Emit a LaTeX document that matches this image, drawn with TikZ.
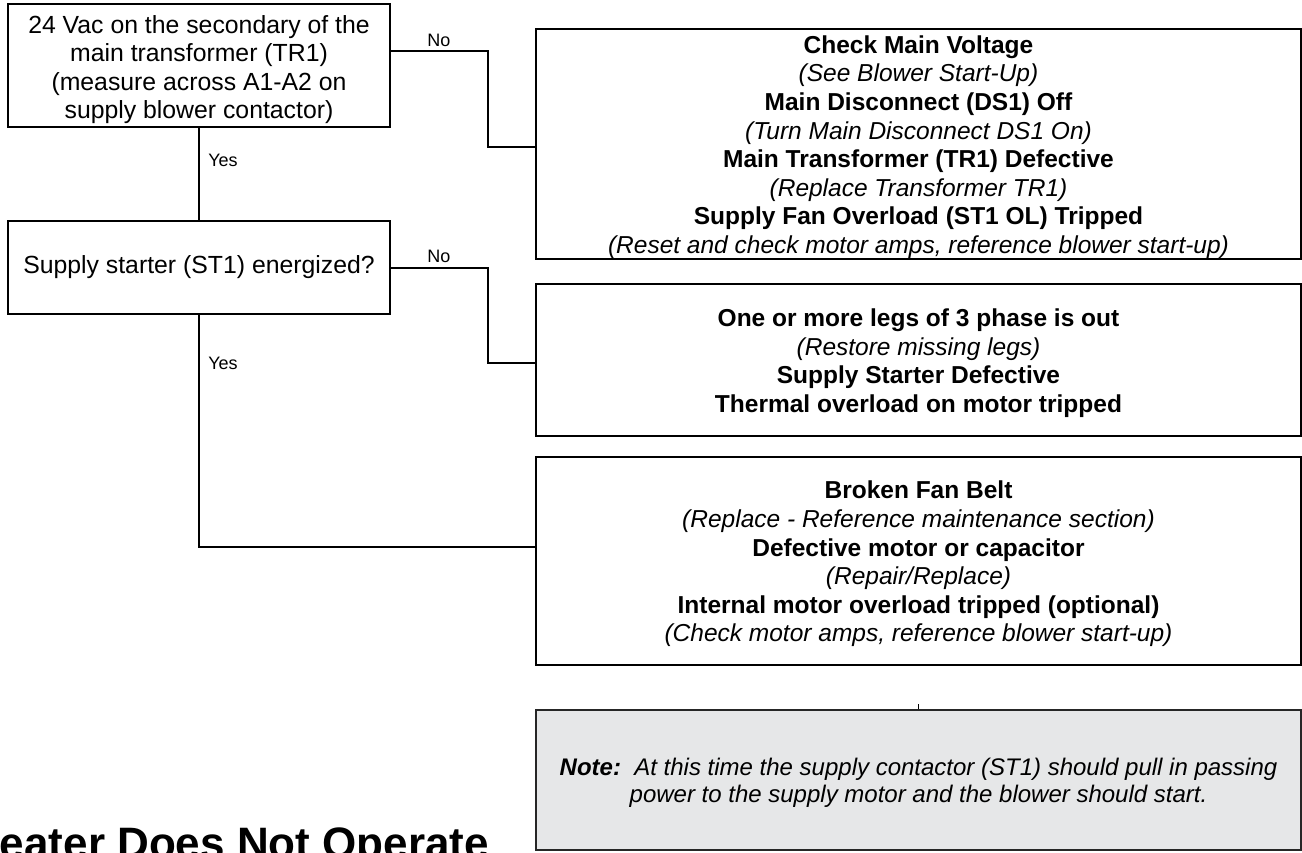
\documentclass[tikz,border=0pt]{standalone}
\usepackage{fontspec}
\setmainfont{Liberation Sans}
\definecolor{notegray}{HTML}{E6E7E8}
\newcommand{\bxfont}{\fontsize{24.5}{28.6}\selectfont}
\newcommand{\qsfont}{\fontsize{24.8}{28.4}\selectfont}
\newcommand{\lbfont}{\fontsize{18}{20}\selectfont}
\begin{document}
\begin{tikzpicture}[x=1pt,y=-1pt,
  box/.style={draw=black, line width=2pt, inner sep=0pt, align=center, font=\bxfont},
  qbox/.style={box, font=\qsfont, minimum width=382pt},
  rbox/.style={box, minimum width=765pt},
  conn/.style={line width=2pt},
  lbl/.style={font=\lbfont, inner sep=0pt}]
\useasboundingbox (0,0) rectangle (1302,852);
\clip (0,0) rectangle (1302,852);
\fill[white] (0,0) rectangle (1302,852);

\node[qbox, minimum height=123pt] (A) at (199,65.5)
  {\rule{0pt}{26pt}24 Vac on the secondary of the\\main transformer (TR1)\\(measure across A1-A2 on\\supply blower contactor)};
\node[qbox, minimum height=93pt] (C) at (199,267.5)
  {Supply starter (ST1) energized?};

\node[rbox, minimum height=230pt] (B) at (918.5,144)
  {\rule{0pt}{24pt}\textbf{Check Main Voltage}\\\textit{(See Blower Start-Up)}\\\textbf{Main Disconnect (DS1) Off}\\\textit{(Turn Main Disconnect DS1 On)}\\\textbf{Main Transformer (TR1) Defective}\\\textit{(Replace Transformer TR1)}\\\textbf{Supply Fan Overload (ST1 OL) Tripped}\\\textit{(Reset and check motor amps, reference blower start-up)}};
\node[rbox, minimum height=152pt] (D) at (918.5,360)
  {\rule{0pt}{24pt}\textbf{One or more legs of 3 phase is out}\\\textit{(Restore missing legs)}\\\textbf{Supply Starter Defective}\\\textbf{Thermal overload on motor tripped}};
\node[rbox, minimum height=208pt] (E) at (918.5,561)
  {\rule{0pt}{24pt}\textbf{Broken Fan Belt}\\\textit{(Replace - Reference maintenance section)}\\\textbf{Defective motor or capacitor}\\\textit{(Repair/Replace)}\\\textbf{Internal motor overload tripped (optional)}\\\textit{(Check motor amps, reference blower start-up)}};
\node[rbox, draw=black!85, line width=1.5pt, fill=notegray, font=\fontsize{24}{27}\selectfont, minimum height=140pt] (N) at (918.5,780)
  {\rule{0pt}{22pt}\textbf{\textit{Note:}}\ \ \textit{At this time the supply contactor (ST1) should pull in passing}\\\textit{power to the supply motor and the blower should start.}};

\draw[conn] ([yshift=14.5pt]A.east) -- ++(97,0) |- ([yshift=-3pt]B.west);
\draw[conn] (C.east) -- ++(97,0) |- ([yshift=-3pt]D.west);
\draw[conn] (A) -- (C);
\draw[conn] (C.south) |- ([yshift=14pt]E.west);
\draw[line width=1pt] (N.north) -- ++(0,-5);

\node[lbl] (no1) at (439,40) {No};
\node[lbl] (no2) at (439,256) {No};
\node[lbl] (yes1) at (223,160) {Yes};
\node[lbl] (yes2) at (223,363) {Yes};

\node[anchor=base west, inner sep=0pt, font=\fontsize{44}{50}\selectfont\bfseries] (H) at (-32,858.5) {Heater Does Not Operate};
\end{tikzpicture}
\end{document}
